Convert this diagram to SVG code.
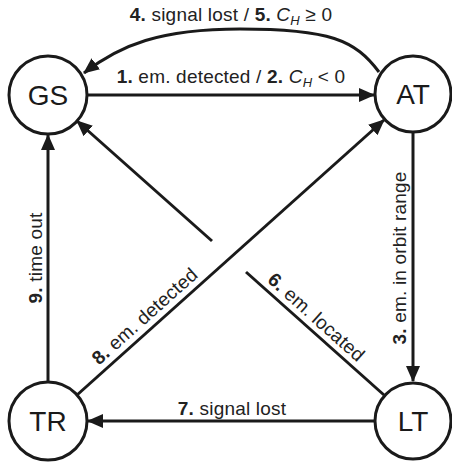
<svg xmlns="http://www.w3.org/2000/svg" width="452" height="463" viewBox="0 0 452 463">
<defs>
<style>
.node circle{fill:#fff;stroke:#1a1a1a;stroke-width:3}
.node text{font-family:"Liberation Sans",Arial,sans-serif;font-size:28px;fill:#1a1a1a;text-anchor:middle}
.edges path,.edges line{stroke:#1a1a1a;stroke-width:3;fill:none}
.lbl{font-family:"Liberation Sans",Arial,sans-serif;font-size:19px;letter-spacing:0.2px;fill:#222;text-anchor:middle}
.b{font-weight:bold}
.i{font-style:italic}
</style>
<marker id="ah" viewBox="0 0 16 14" refX="15" refY="7" markerWidth="16" markerHeight="14" markerUnits="userSpaceOnUse" orient="auto">
<path d="M0,0 L16,7 L0,14 z" fill="#1a1a1a"/>
</marker>
</defs>
<g class="edges">
<line x1="87" y1="95" x2="374" y2="95" marker-end="url(#ah)"/>
<path d="M379 72 C355 40 330 29 240 29 C160 29 120 45 84 73" marker-end="url(#ah)"/>
<line x1="413" y1="133" x2="413" y2="381" marker-end="url(#ah)"/>
<line x1="374" y1="421" x2="88" y2="421" marker-end="url(#ah)"/>
<line x1="48" y1="382" x2="48" y2="135" marker-end="url(#ah)"/>
<line x1="77" y1="395" x2="384" y2="120" marker-end="url(#ah)"/>
<line x1="384" y1="395" x2="246" y2="272"/>
<line x1="212" y1="241" x2="77" y2="121" marker-end="url(#ah)"/>
</g>
<g class="labels">
<text class="lbl" x="231" y="21"><tspan class="b">4.</tspan> signal lost / <tspan class="b">5.</tspan> <tspan class="i">C</tspan><tspan class="i" font-size="13" dy="4">H</tspan><tspan dy="-4"> ≥ 0</tspan></text>
<text class="lbl" x="231" y="83"><tspan class="b">1.</tspan> em. detected / <tspan class="b">2.</tspan> <tspan class="i">C</tspan><tspan class="i" font-size="13" dy="4">H</tspan><tspan dy="-4"> &lt; 0</tspan></text>
<text class="lbl" x="232" y="415"><tspan class="b">7.</tspan> signal lost</text>
<text class="lbl" transform="translate(406 258) rotate(-90)"><tspan class="b">3.</tspan> em. in orbit range</text>
<text class="lbl" transform="translate(42 258) rotate(-90)"><tspan class="b">9.</tspan> time out</text>
<text class="lbl" transform="translate(149 321) rotate(-41.8)"><tspan class="b">8.</tspan> em. detected</text>
<text class="lbl" transform="translate(312 322) rotate(41.8)"><tspan class="b">6.</tspan> em. located</text>
</g>
<g id="GS" class="node"><circle cx="48" cy="95" r="39"/><text x="48" y="105">GS</text></g>
<g id="AT" class="node"><circle cx="413" cy="94" r="38"/><text x="413" y="104">AT</text></g>
<g id="TR" class="node"><circle cx="48" cy="421" r="39"/><text x="48" y="431">TR</text></g>
<g id="LT" class="node"><circle cx="413" cy="421" r="38"/><text x="413" y="431">LT</text></g>
</svg>
